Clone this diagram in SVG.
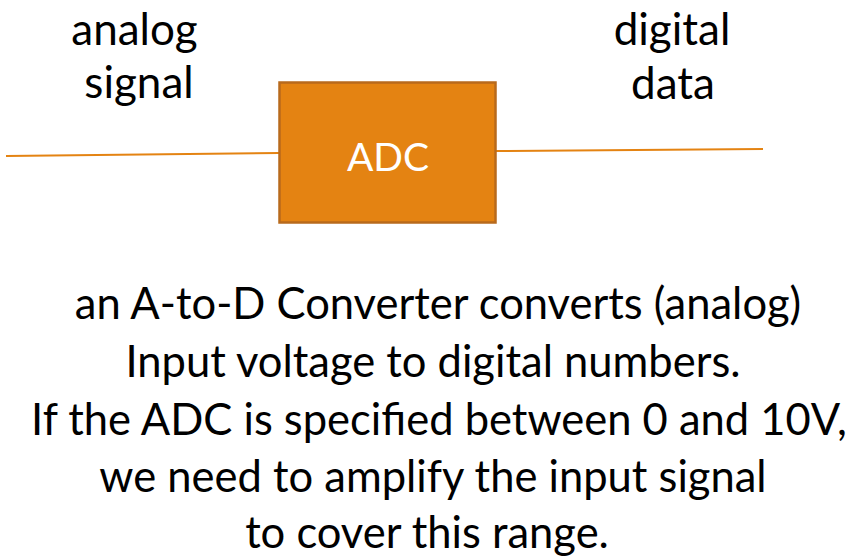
<svg xmlns="http://www.w3.org/2000/svg" width="851" height="557" viewBox="0 0 851 557">
<style>
text{font-family:Lato,"Liberation Sans",sans-serif;fill:#000;text-anchor:middle}
.lbl{font-size:44px}
.body{font-size:43.5px}
.wire{stroke:#E48312;stroke-width:2;fill:none}
</style>
<rect width="851" height="557" fill="#fff"/>
<g id="connectors">
<line class="wire" x1="6" y1="156" x2="279" y2="153"/>
<line class="wire" x1="496" y1="151" x2="763" y2="149"/>
</g>
<g id="adc">
<rect x="279.5" y="82.5" width="216" height="140" fill="#E48312" stroke="#B86A1C" stroke-width="2.5"/>
<text x="388" y="171" style="font-size:39px;fill:#fff">ADC</text>
</g>
<g id="analog-label">
<text class="lbl" x="134.5" y="45">analog</text>
<text class="lbl" x="139" y="98">signal</text>
</g>
<g id="digital-label">
<text class="lbl" x="672" y="45">digital</text>
<text class="lbl" x="673" y="99">data</text>
</g>
<g id="description">
<text class="body" x="438" y="319">an A-to-D Converter converts (analog)</text>
<text class="body" x="433" y="377">Input voltage to digital numbers.</text>
<text class="body" x="439" y="435">If the ADC is specified between 0 and 10V,</text>
<text class="body" x="433" y="492">we need to amplify the input signal</text>
<text class="body" x="427" y="548">to cover this range.</text>
</g>
</svg>
